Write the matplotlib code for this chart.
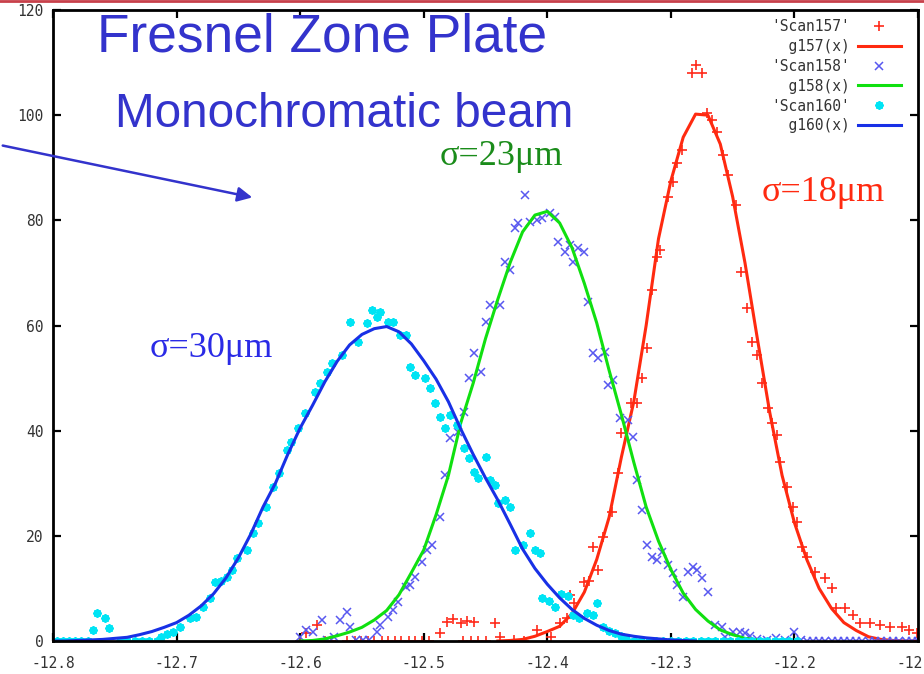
import matplotlib
matplotlib.use("Agg")
import matplotlib.pyplot as plt
import numpy as np

g160_x = np.round(np.arange(-12.80, -12.275, 0.01), 2)
g160_y = [0.0, 0.0, 0.1, 0.2, 0.3, 0.5, 0.7, 1.2, 1.8, 2.6,
          3.5, 4.9, 6.7, 9.0, 12.0, 15.8, 20.3, 25.5, 30.0, 35.5,
          40.5, 44.8, 49.3, 53.2, 56.3, 58.3, 59.4, 59.8, 58.8, 56.5,
          53.3, 49.8, 45.5, 40.3, 35.5, 31.0, 26.8, 22.2, 17.5, 13.8,
          10.8, 8.2, 6.0, 4.3, 3.0, 2.0, 1.3, 0.9, 0.6, 0.4,
          0.2, 0.1, 0.0]

g158_x = np.round(np.arange(-12.60, -12.215, 0.01), 2)
g158_y = [0.0, 0.1, 0.4, 1.0, 1.7, 2.6, 4.0, 5.8, 8.8, 13.0,
          17.3, 24.0, 31.5, 41.5, 49.0, 57.5, 65.0, 72.0, 77.8, 81.0,
          81.7, 79.5, 74.8, 68.0, 60.5, 51.5, 43.0, 34.0, 25.5, 19.0,
          13.6, 9.1, 6.0, 3.8, 2.1, 1.2, 0.5, 0.2, 0.0]

g157_x = np.round(np.arange(-12.44, -12.095, 0.01), 2)
g157_y = [0.0, 0.1, 0.3, 0.9, 1.8, 2.8, 5.2, 9.3, 15.5, 23.5,
          35.0, 45.5, 60.0, 76.5, 87.5, 95.8, 100.2, 100.0, 94.5, 84.5,
          71.9, 57.5, 43.5, 31.5, 22.5, 15.5, 10.0, 6.2, 3.5, 2.0,
          0.8, 0.3, 0.1, 0.0, 0.0]

# measured scans
scan157_x = [-12.600, -12.595, -12.586, -12.580, -12.575, -12.562, -12.556, -12.551,
             -12.545, -12.540, -12.534, -12.529, -12.523, -12.518, -12.512, -12.507,
             -12.501, -12.496, -12.487, -12.481, -12.476, -12.470, -12.465, -12.459,
             -12.468, -12.462, -12.456, -12.450, -12.442, -12.438, -12.427, -12.419,
             -12.408, -12.397, -12.390, -12.384, -12.382, -12.378, -12.370, -12.366,
             -12.359, -12.363, -12.355, -12.348, -12.343, -12.340, -12.332, -12.327,
             -12.323, -12.319, -12.315, -12.311, -12.309, -12.302, -12.298, -12.295,
             -12.291, -12.283, -12.280, -12.275, -12.271, -12.267, -12.263, -12.258,
             -12.254, -12.247, -12.243, -12.238, -12.234, -12.230, -12.226, -12.221,
             -12.218, -12.214, -12.212, -12.206, -12.201, -12.198, -12.194, -12.190,
             -12.183, -12.175, -12.170, -12.166, -12.159, -12.153, -12.147, -12.139,
             -12.131, -12.123, -12.113, -12.107, -12.101]
scan157_y = [0.0, 1.5, 3.0, 0.0, 0.0, 0.0, 0.0, 0.0,
             0.0, 0.0, 0.0, 0.0, 0.0, 0.0, 0.0, 0.0,
             0.0, 0.0, 1.5, 3.6, 4.2, 3.4, 3.8, 3.6,
             0.0, 0.0, 0.0, 0.0, 3.4, 0.8, 0.2, 0.0,
             2.1, 0.8, 3.4, 4.4, 8.7, 7.2, 11.2, 11.4,
             13.5, 17.9, 19.8, 24.5, 31.9, 39.5, 45.2, 45.2,
             50.0, 55.7, 66.7, 73.0, 74.3, 84.4, 87.3, 90.9,
             93.3, 108.0, 109.5, 108.0, 100.4, 99.0, 96.8, 92.4,
             88.6, 82.9, 70.2, 63.3, 56.8, 54.4, 49.0, 44.3,
             41.4, 39.2, 34.0, 29.3, 25.5, 22.6, 17.9, 16.0,
             13.1, 12.0, 10.1, 6.3, 6.3, 4.9, 3.4, 3.4,
             3.0, 2.7, 2.7, 2.1, 1.5]

scan158_x = [-12.600, -12.595, -12.590, -12.582, -12.578, -12.573, -12.568, -12.562,
             -12.560, -12.555, -12.549, -12.544, -12.538, -12.535, -12.529, -12.525,
             -12.521, -12.514, -12.511, -12.507, -12.501, -12.497, -12.493, -12.487,
             -12.483, -12.479, -12.472, -12.467, -12.463, -12.459, -12.454, -12.450,
             -12.446, -12.438, -12.434, -12.430, -12.426, -12.424, -12.418, -12.414,
             -12.408, -12.404, -12.398, -12.394, -12.391, -12.386, -12.382, -12.379,
             -12.375, -12.370, -12.367, -12.363, -12.359, -12.353, -12.351, -12.347,
             -12.341, -12.335, -12.331, -12.327, -12.323, -12.319, -12.315, -12.311,
             -12.307, -12.302, -12.298, -12.295, -12.290, -12.286, -12.282, -12.279,
             -12.275, -12.270, -12.264, -12.259, -12.256, -12.250, -12.244, -12.240,
             -12.236, -12.230, -12.222, -12.215, -12.208, -12.200, -12.195, -12.190,
             -12.185, -12.180, -12.175, -12.170, -12.165, -12.160, -12.155, -12.150,
             -12.145, -12.140, -12.135, -12.130, -12.125, -12.120, -12.115, -12.110,
             -12.105, -12.100]
scan158_y = [0.8, 2.1, 1.7, 4.0, 0.2, 0.8, 4.0, 5.5,
             2.7, 0.2, 0.1, 0.2, 1.7, 3.0, 4.6, 5.9,
             7.4, 10.3, 10.6, 12.2, 15.0, 17.3, 18.3, 23.6,
             31.6, 38.6, 39.7, 43.5, 50.0, 54.8, 51.1, 60.6,
             63.9, 63.9, 72.0, 70.5, 78.5, 79.5, 84.8, 79.7,
             80.0, 80.4, 81.4, 80.6, 75.9, 74.0, 75.3, 72.0,
             74.7, 74.0, 64.4, 54.8, 53.8, 54.9, 48.7, 49.6,
             42.4, 42.0, 38.8, 30.6, 24.9, 18.3, 16.0, 15.4,
             16.9, 14.4, 12.9, 10.6, 8.4, 13.1, 14.1, 13.5,
             12.0, 9.3, 3.0, 2.7, 0.8, 1.7, 1.7, 1.5,
             1.0, 0.3, 0.1, 0.5, 0.2, 1.7, 0.2, 0.0,
             0.0, 0.0, 0.0, 0.0, 0.0, 0.0, 0.0, 0.0,
             0.0, 0.0, 0.0, 0.0, 0.0, 0.0, 0.0, 0.0,
             0.0, 0.0]

scan160_x = [-12.797, -12.792, -12.787, -12.782, -12.777, -12.772, -12.768, -12.764,
             -12.758, -12.755, -12.746, -12.740, -12.734, -12.728, -12.722, -12.716,
             -12.713, -12.708, -12.703, -12.697, -12.689, -12.684, -12.679, -12.673,
             -12.669, -12.664, -12.659, -12.655, -12.651, -12.643, -12.638, -12.634,
             -12.628, -12.622, -12.617, -12.611, -12.607, -12.602, -12.596, -12.588,
             -12.584, -12.578, -12.574, -12.566, -12.560, -12.553, -12.546, -12.542,
             -12.538, -12.535, -12.529, -12.525, -12.519, -12.514, -12.511, -12.507,
             -12.499, -12.495, -12.491, -12.487, -12.483, -12.479, -12.473, -12.467,
             -12.463, -12.459, -12.456, -12.450, -12.446, -12.442, -12.440, -12.434,
             -12.430, -12.426, -12.420, -12.414, -12.410, -12.406, -12.404, -12.399,
             -12.394, -12.389, -12.383, -12.379, -12.374, -12.368, -12.363, -12.360,
             -12.355, -12.350, -12.345, -12.340, -12.336, -12.330, -12.324, -12.318,
             -12.312, -12.306, -12.300, -12.294, -12.288, -12.282, -12.276, -12.270,
             -12.264, -12.258, -12.252, -12.246, -12.240, -12.234, -12.228, -12.222,
             -12.216, -12.210, -12.204, -12.198]
scan160_y = [0.0, 0.0, 0.0, 0.0, 0.0, 0.0, 2.1, 5.3,
             4.4, 2.5, 0.0, 0.0, 0.0, 0.0, 0.0, 0.0,
             0.8, 1.3, 1.7, 2.7, 4.4, 4.6, 6.5, 8.2,
             11.2, 11.5, 12.2, 13.5, 15.8, 17.3, 20.5, 22.4,
             25.5, 29.3, 32.0, 36.3, 37.8, 40.5, 43.3, 47.3,
             49.0, 51.1, 52.9, 54.4, 60.6, 56.8, 60.5, 62.9,
             61.6, 62.5, 60.6, 60.6, 58.2, 58.2, 52.1, 50.6,
             50.0, 48.1, 45.2, 42.6, 40.5, 43.0, 41.0, 36.7,
             34.8, 32.1, 31.0, 35.0, 30.6, 29.7, 26.2, 26.8,
             25.5, 17.3, 18.3, 20.5, 17.3, 16.7, 8.2, 7.6,
             6.5, 9.0, 8.5, 5.0, 4.4, 5.3, 4.9, 7.2,
             2.7, 1.9, 1.5, 0.9, 0.3, 0.0, 0.0, 0.0,
             0.0, 0.0, 0.0, 0.0, 0.0, 0.0, 0.0, 0.0,
             0.0, 0.0, 0.0, 0.0, 0.0, 0.0, 0.0, 0.0,
             0.0, 0.0, 0.0, 0.0]

x_ticks = [-12.8, -12.7, -12.6, -12.5, -12.4, -12.3, -12.2, -12.1]
y_ticks = [0, 20, 40, 60, 80, 100, 120]

mono = "DejaVu Sans Mono"
fig = plt.figure(figsize=(9.24, 6.74), dpi=100)
ax = fig.add_axes([53/924, 33/674, 865/924, 631/674])

ax.plot(scan157_x, scan157_y, ls="none", marker="+", ms=6.5, mew=1.2,
        color="#ff2a1a", label="'Scan157'")
ax.plot(g157_x, g157_y, color="#ff2a10", lw=2.2, label="  g157(x)")
ax.plot(scan158_x, scan158_y, ls="none", marker="x", ms=6.2, mew=1.1,
        color="#5858f0", label="'Scan158'")
ax.plot(g158_x, g158_y, color="#10e010", lw=2.2, label="  g158(x)")
ax.plot(scan160_x, scan160_y, ls="none", marker=(8, 2, 0), ms=6, mew=1.4,
        color="#00e4f4", label="'Scan160'")
ax.plot(g160_x, g160_y, color="#1830e6", lw=2.2, label="  g160(x)")

ax.set_xlim(-12.8, -12.1)
ax.set_ylim(0, 120)
ax.set_xticks(x_ticks)
ax.set_xticklabels([f"{v:.1f}" for v in x_ticks], family=mono, fontsize=10.5, color="#333333")
ax.set_yticks(y_ticks)
ax.set_yticklabels([str(v) for v in y_ticks], family=mono, fontsize=10.5, color="#333333")
ax.tick_params(direction="in", length=6, width=1.6, top=True, right=True, pad=7)
ax.tick_params(axis="x", pad=11)
for s in ax.spines.values():
    s.set_linewidth(2.0)

leg = ax.legend(loc="upper right", bbox_to_anchor=(0.995, 1.007), frameon=False,
                markerfirst=False, numpoints=1, handlelength=2.9, handletextpad=0.6,
                labelspacing=0.34, prop={"family": mono, "size": 10.5})
for t in leg.get_texts():
    t.set_color("#333333")

# slide annotations
blue = "#3333cc"
fig.text(97/924, 1 - 52/674, "Fresnel Zone Plate", family="Liberation Sans",
         fontsize=38.3, color=blue, va="baseline", ha="left")
fig.text(115/924, 1 - 127/674, "Monochromatic beam", family="Liberation Sans",
         fontsize=34.4, color=blue, va="baseline", ha="left")
ax.annotate("", xy=(255/924, 1 - 198/674), xytext=(0, 1 - 145/674),
            xycoords="figure fraction", textcoords="figure fraction",
            arrowprops=dict(arrowstyle="-|>", color=blue, lw=1.8, mutation_scale=22))

fig.text(440/924, 1 - 165/674, "σ=23μm", family="Liberation Serif",
         fontsize=26, color="#1a8c1a", va="baseline")
fig.text(762/924, 1 - 201/674, "σ=18μm", family="Liberation Serif",
         fontsize=26, color="#ff2a10", va="baseline")
fig.text(150/924, 1 - 357/674, "σ=30μm", family="Liberation Serif",
         fontsize=26, color="#2a2ae6", va="baseline")

# red slide border at the top edge
fig.add_artist(plt.Line2D([0, 1], [0.998, 0.998], transform=fig.transFigure,
                          color="#c8404a", lw=2))

fig.savefig("out.png", dpi=100)
